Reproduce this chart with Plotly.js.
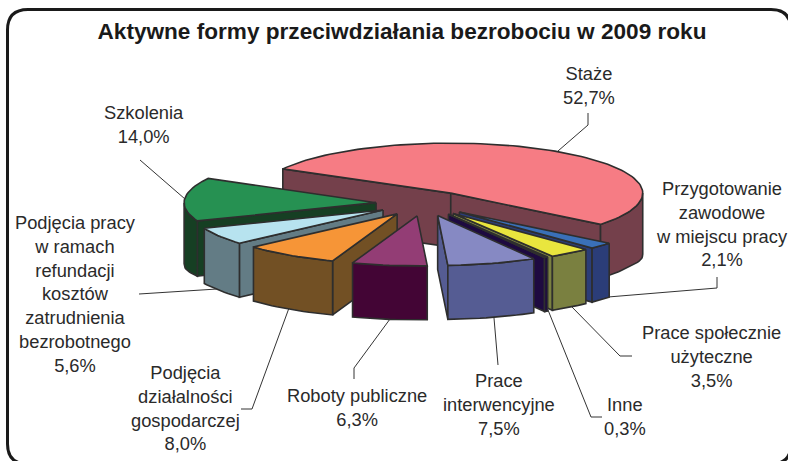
<!DOCTYPE html>
<html><head><meta charset="utf-8"><script src="https://cdn.plot.ly/plotly-3.0.1.min.js"></script>
<style>html,body{margin:0;padding:0;background:#fff;overflow:hidden}#c{width:788px;height:461px}</style></head>
<body><div id="c"></div><script>
const names=['Staże','Przygotowanie zawodowe w miejscu pracy','Prace społecznie użyteczne','Inne','Prace interwencyjne','Roboty publiczne','Podjęcia działalności gospodarczej','Podjęcia pracy w ramach refundacji kosztów zatrudnienia bezrobotnego','Szkolenia'];
const values=[52.7,2.1,3.5,0.3,7.5,6.3,8.0,5.6,14.0];
const topColors=['#F67C84','#3A70B8','#E9E63E','#3A2A70','#8689C3','#933D75','#F69537','#B7E3EF','#269152'];
const wallColors=['#74404B','#2B3D78','#7A8040','#1E0A40','#555C93','#430535','#725024','#637C85','#163F23'];
const labelTexts=['Staże<br>52,7%','Przygotowanie<br>zawodowe<br>w miejscu pracy<br>2,1%','Prace społecznie<br>użyteczne<br>3,5%','Inne<br>0,3%','Prace<br>interwencyjne<br>7,5%','Roboty publiczne<br>6,3%','Podjęcia<br>działalności<br>gospodarczej<br>8,0%','Podjęcia pracy<br>w ramach<br>refundacji<br>kosztów<br>zatrudnienia<br>bezrobotnego<br>5,6%','Szkolenia<br>14,0%'];
const labelX=[589,721.5,711,625,498.5,357,185,75,144];
const labelY=[85,224,356,416.5,404.5,407,408,294,124.5];
const leadersX=[[588,588,558],[717,717,608],[632,620,571],[602,591,548],[498,494],[354,354,390],[241,252,289],[139,217],[140,185]];
const leadersY=[[113,125,151],[277,288,297],[356,356,306],[417,417,310],[365,318],[379,368,319],[409,409,308],[294,289],[160,199]];
const drawOrder=[0,1,2,3,4,8,7,6,5];
const C={x:424,y:203.5,rx:192,ry:50,explode:0.25,start:-61};
const rad=d=>d*Math.PI/180;
const depth=a=>54+7*Math.pow(Math.sin(rad(a)),24);
const px=(o,a)=>[o[0]+C.rx*Math.sin(rad(a)),o[1]-C.ry*Math.cos(rad(a))];
const traces=[];
function poly(xs,ys,fill){traces.push({type:'scatter',mode:'lines',x:xs.concat(xs[0]),y:ys.concat(ys[0]),fill:'toself',fillcolor:fill,line:{color:'#2E2E2E',width:1.6},hoverinfo:'skip',showlegend:false});}
const total=values.reduce((a,b)=>a+b,0);
let acc=C.start;const spans=values.map(v=>{const s=[acc,acc+v/total*360];acc=s[1];return s;});
function arc(a,b){const n=Math.max(2,Math.ceil(Math.abs(b-a)/2));const out=[];for(let i=0;i<=n;i++)out.push(a+(b-a)*i/n);return out;}
drawOrder.forEach(i=>{
  const [a0,a1]=spans[i],mid=(a0+a1)/2;
  const o=[C.x+C.explode*C.rx*Math.sin(rad(mid)),C.y-C.explode*C.ry*Math.cos(rad(mid))];
  const cut=a=>{const p=px(o,a);poly([o[0],p[0],p[0],o[0]],[o[1],p[1],p[1]+depth(a),o[1]+54],wallColors[i]);};
  if(Math.sin(rad(a0))<0)cut(a0);
  if(Math.sin(rad(a1))>0)cut(a1);
  [[a0,a1],[a0+360,a1+360]].forEach(([s,e])=>{const lo=Math.max(s,90),hi=Math.min(e,270);if(hi>lo){const as=arc(lo,hi);const top=as.map(a=>px(o,a));const bx=top.map(p=>p[0]).reverse();const by=top.map((p,k)=>p[1]+depth(as[k])).reverse();poly(top.map(p=>p[0]).concat(bx),top.map(p=>p[1]).concat(by),wallColors[i]);}});
  const pts=arc(a0,a1).map(a=>px(o,a));
  poly([o[0]].concat(pts.map(p=>p[0])),[o[1]].concat(pts.map(p=>p[1])),topColors[i]);
});
leadersX.forEach((lx,i)=>traces.push({type:'scatter',mode:'lines',x:lx,y:leadersY[i],line:{color:'#333',width:1},hoverinfo:'skip',showlegend:false}));
const annotations=labelTexts.map((t,i)=>({x:labelX[i],y:labelY[i],xref:'x',yref:'y',text:t,showarrow:false,align:'center',xanchor:'center',yanchor:'middle',font:{family:'Liberation Sans, Arial, sans-serif',size:18.3,color:'#2a2a2a'}}));
const frame='M 28 9.5 L 771 9.5 Q 791 9.5 791 30 L 791 444 Q 791 464 771 464 L 28 464 Q 7.5 464 7.5 444 L 7.5 30 Q 7.5 9.5 28 9.5 Z';
Plotly.newPlot('c',traces,{width:788,height:461,margin:{l:0,r:0,t:0,b:0},paper_bgcolor:'#fff',plot_bgcolor:'#fff',
 title:{text:'Aktywne formy przeciwdziałania bezrobociu w 2009 roku',x:402/788,xanchor:'center',y:1-31/461,yanchor:'middle',font:{family:'Liberation Sans, Arial, sans-serif',size:22.6,color:'#1a1a1a',weight:700}},
 xaxis:{range:[0,788],visible:false,fixedrange:true},yaxis:{range:[461,0],visible:false,fixedrange:true},
 showlegend:false,annotations,
 shapes:[{type:'path',xref:'x',yref:'y',path:frame,line:{color:'#1a1a1a',width:3},fillcolor:'rgba(0,0,0,0)',layer:'below'}]},{displayModeBar:false,staticPlot:true});
</script></body></html>
